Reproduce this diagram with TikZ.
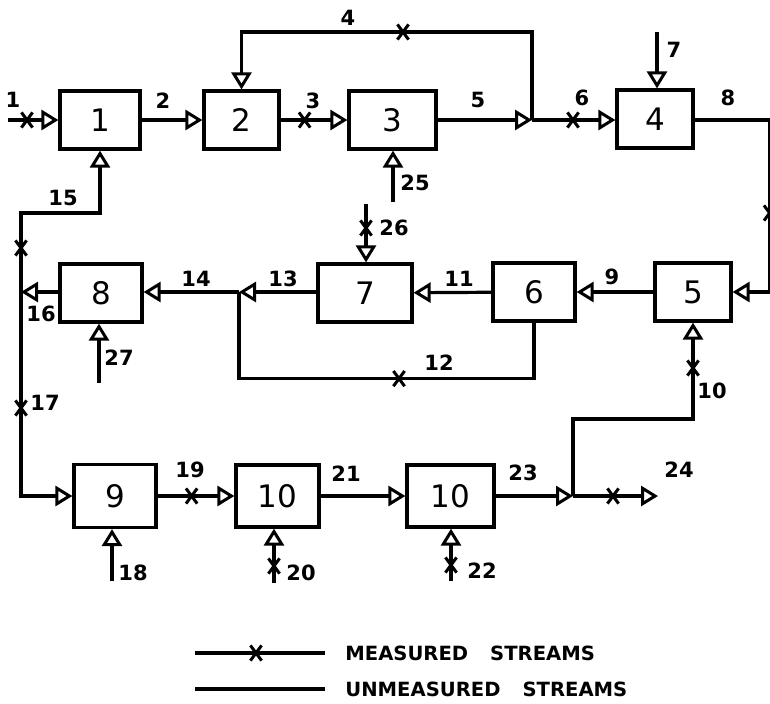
\documentclass[tikz,border=0pt]{standalone}
\usepackage{fontspec}
\setmainfont{DejaVu Sans}
\usepackage{tikz}
\usetikzlibrary{positioning,arrows.meta,calc,decorations.markings}
\tikzset{
  fig/unit/.style={draw, line width=1.6pt, minimum width=40pt, minimum height=29pt,
                   inner sep=0pt, font=\fontsize{15.5}{15.5}\selectfont},
  fig/pipe/.style={line width=1.6pt},
  fig/arr/.style ={fig/pipe, -{Triangle[open, length=8.5pt, width=10pt, line width=1.5pt]}},
  fig/meas/.style={postaction={decorate, decoration={markings,
                   mark=at position #1 with {\xmk}}}},
  fig/lbl/.style ={inner sep=0pt, font=\bfseries\fontsize{10.5}{10.5}\selectfont},
  fig/key/.style ={inner sep=0pt, anchor=west, font=\bfseries\fontsize{9.8}{9.8}\selectfont}
}
% cross on a measured stream, kept upright
\newcommand{\xmk}{\pgftransformresetnontranslations
  \draw[-, line width=1.5pt] (-2.8pt,-3.8pt) -- (2.8pt,3.8pt) (-2.8pt,3.8pt) -- (2.8pt,-3.8pt);}
\begin{document}
\begin{tikzpicture}[x=0.5pt, y=-0.5pt]
    \useasboundingbox (0,0) rectangle (770,703);

    % --- units ---
    \node[fig/unit] (b1) at (100,120) {1};
    \node[fig/unit, minimum width=37.5pt] (b2) at (241.5,120) {2};
    \node[fig/unit, minimum width=43.5pt] (b3) at (392.5,120) {3};
    \node[fig/unit, minimum width=38pt] (b4) at (655,119) {4};
    \node[fig/unit, minimum width=38pt] (b5) at (693,292) {5};
    \node[fig/unit, minimum width=41pt] (b6) at (534,292) {6};
    \node[fig/unit, minimum width=47pt] (b7) at (365,293) {7};
    \node[fig/unit, minimum width=41pt] (b8) at (101,293) {8};
    \node[fig/unit, minimum width=41pt, minimum height=31.5pt] (b9) at (115,496) {9};
    \node[fig/unit, minimum width=41.5pt, minimum height=31pt] (u10) at (277.5,496) {10};
    \node[fig/unit, minimum width=43.5pt, minimum height=31pt] (v10) at (450.5,496) {10};

    % --- junctions and free ends ---
    \coordinate (j5)  at (532,120);
    \coordinate (j13) at (239,292);
    \coordinate (j16) at (21,292);
    \coordinate (j23) at (573,496);
    \coordinate (in1)  at (8,120);
    \coordinate (in7)  at (657,32);
    \coordinate (in25) at (393,202);
    \coordinate (in26) at (366,204);
    \coordinate (in27) at (99,383);
    \coordinate (in18) at (112,581);
    \coordinate (in20) at (274,583);
    \coordinate (in22) at (451,581);
    \coordinate (out24) at (658,496);

    % --- top row ---
    \draw[fig/arr, fig/meas=9.5pt] (in1) -- (b1);
    \draw[fig/arr] (b1) -- (b2);
    \draw[fig/arr, fig/meas=12pt] (b2) -- (b3);
    \draw[fig/arr] (b3) -- (j5);
    \draw[fig/arr, fig/meas=108.5pt] (j5) -- ++(0,-88) -| (b2.north);
    \draw[fig/arr, fig/meas=20.5pt] (j5) -- (j5 -| b4.west);
    \draw[fig/arr] (in7) -- (in7 |- b4.north);
    \draw[fig/arr] (in25) -- (in25 |- b3.south);
    \draw[fig/arr, fig/meas=84pt] (b4.east |- j5) -- ++(75,0) |- (b5.east);

    % --- middle row ---
    \draw[fig/arr] (b5) -- (b6);
    \draw[fig/arr] (b6) -- (b7);
    \draw[fig/arr, fig/meas=12pt] (in26) -- (in26 |- b7.north);
    \draw[fig/arr] (b7.west |- j13) -- (j13);
    \draw[fig/pipe, fig/meas=95.5pt] (b6.south) -- ++(0,56) -| (j13);
    \draw[fig/arr] (j13) -- (j13 -| b8.east);
    \draw[fig/arr] (b8.west |- j16) -- (j16);
    \draw[fig/arr] (in27) -- (in27 |- b8.south);
    \draw[fig/arr, fig/meas=22pt] (j16) -- ++(0,-79) -| (b1.south);
    \draw[fig/arr, fig/meas=58pt] (j16) |- (b9.west);

    % --- bottom row ---
    \draw[fig/arr] (in18) -- (in18 |- b9.south);
    \draw[fig/arr, fig/meas=17pt] (b9) -- (u10);
    \draw[fig/arr, fig/meas=8.5pt] (in20) -- (in20 |- u10.south);
    \draw[fig/arr] (u10) -- (v10);
    \draw[fig/arr, fig/meas=8pt] (in22) -- (in22 |- v10.south);
    \draw[fig/arr] (v10) -- (j23);
    \draw[fig/arr, fig/meas=20pt] (j23) -- (out24);
    \draw[fig/arr, fig/meas=124pt] (j23) -- ++(0,-77) -| (b5.south);

    % --- stream numbers ---
    \node[fig/lbl] (s1)  at (13,100) {1};
    \node[fig/lbl] (s2)  at (163,101) {2};
    \node[fig/lbl] (s3)  at (313,101) {3};
    \node[fig/lbl] (s4)  at (348,18) {4};
    \node[fig/lbl] (s5)  at (478,100) {5};
    \node[fig/lbl] (s6)  at (582,98) {6};
    \node[fig/lbl] (s7)  at (674,50) {7};
    \node[fig/lbl] (s8)  at (728,98) {8};
    \node[fig/lbl] (s9)  at (612,277) {9};
    \node[fig/lbl] (s10) at (712,391) {10};
    \node[fig/lbl] (s11) at (459,279) {11};
    \node[fig/lbl] (s12) at (439,363) {12};
    \node[fig/lbl] (s13) at (283,279) {13};
    \node[fig/lbl] (s14) at (196,279) {14};
    \node[fig/lbl] (s15) at (63,198) {15};
    \node[fig/lbl] (s16) at (41,314) {16};
    \node[fig/lbl] (s17) at (45,403) {17};
    \node[fig/lbl] (s18) at (133,573) {18};
    \node[fig/lbl] (s19) at (190,470) {19};
    \node[fig/lbl] (s20) at (301,573) {20};
    \node[fig/lbl] (s21) at (346,474) {21};
    \node[fig/lbl] (s22) at (482,571) {22};
    \node[fig/lbl] (s23) at (523,473) {23};
    \node[fig/lbl] (s24) at (679,470) {24};
    \node[fig/lbl] (s25) at (415,183) {25};
    \node[fig/lbl] (s26) at (394,228) {26};
    \node[fig/lbl] (s27) at (119,358) {27};

    % --- legend ---
    \coordinate (ka) at (195,653);
    \coordinate (kb) at (325,653);
    \coordinate (kc) at (195,689);
    \coordinate (kd) at (325,689);
    \draw[fig/pipe, fig/meas=30.5pt] (ka) -- (kb);
    \draw[fig/pipe] (kc) -- (kd);
    \node[fig/key] (kmeas) at (345,653) {MEASURED\hspace{11pt}STREAMS};
    \node[fig/key] (kunm)  at (345,689) {UNMEASURED\hspace{11pt}STREAMS};
\end{tikzpicture}
\end{document}
